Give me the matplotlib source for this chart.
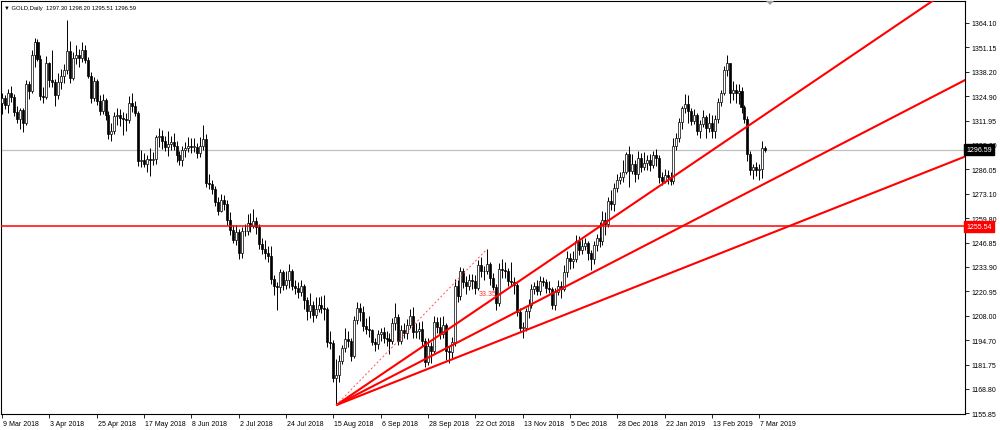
import matplotlib
matplotlib.use("Agg")
import matplotlib.pyplot as plt
import matplotlib.transforms as mtransforms
from matplotlib.patches import Polygon

# ---------------- data ----------------
chart_title = "GOLD,Daily"
last_ohlc = [1297.30, 1298.20, 1295.51, 1296.59]

opens = [
    1321.5, 1324.0, 1320.5, 1326.5, 1324.5, 1316.5, 1313.0, 1317.5, 1311.0, 1331.5,
    1328.0, 1347.0, 1354.0, 1345.0, 1325.0, 1324.5, 1342.5, 1333.5, 1332.5, 1325.5,
    1332.5, 1336.0, 1339.0, 1349.0, 1334.5, 1345.5, 1347.0, 1345.5, 1349.5, 1344.5,
    1336.0, 1324.0, 1333.0, 1322.5, 1317.0, 1323.0, 1315.0, 1305.0, 1306.5, 1314.5,
    1315.0, 1313.5, 1313.0, 1312.5, 1321.5, 1320.0, 1316.0, 1290.5, 1291.0, 1289.0,
    1291.5, 1291.0, 1291.5, 1303.5, 1304.0, 1301.0, 1298.0, 1299.5, 1300.5, 1298.5,
    1293.5, 1291.0, 1296.5, 1297.5, 1298.5, 1298.0, 1298.0, 1294.5, 1298.5, 1302.0,
    1278.5, 1278.0, 1275.5, 1268.5, 1264.0, 1269.5, 1267.5, 1259.0, 1253.5, 1248.5,
    1252.5, 1241.5, 1253.0, 1253.0, 1257.5, 1256.0, 1258.5, 1255.0, 1246.0, 1243.5,
    1241.5, 1240.0, 1227.5, 1224.0, 1223.0, 1231.0, 1224.5, 1227.0, 1231.5, 1223.5,
    1222.5, 1220.5, 1224.0, 1216.5, 1210.5, 1213.5, 1208.5, 1211.5, 1213.5, 1212.0,
    1211.5, 1194.0, 1193.5, 1174.5, 1176.5, 1184.0, 1190.5, 1195.5, 1194.5, 1186.5,
    1205.5, 1212.0, 1210.0, 1202.5, 1201.0, 1200.5, 1194.0, 1193.0, 1198.0, 1199.0,
    1196.0, 1195.5, 1194.5, 1204.0, 1207.0, 1194.5, 1200.5, 1198.5, 1203.0, 1208.0,
    1199.0, 1199.5, 1201.0, 1194.5, 1183.0, 1191.5, 1189.0, 1204.5, 1202.0, 1198.0,
    1203.0, 1189.0, 1188.5, 1194.0, 1224.0, 1218.5, 1232.0, 1226.0, 1223.5, 1227.0,
    1226.5, 1222.5, 1235.0, 1231.5, 1232.0, 1235.5, 1228.0, 1223.0, 1214.5, 1233.0,
    1232.5, 1232.0, 1226.5, 1226.0, 1224.5, 1210.0, 1201.5, 1201.5, 1210.5, 1213.5,
    1222.0, 1223.5, 1221.0, 1226.5, 1226.0, 1222.5, 1222.0, 1213.5, 1220.5, 1224.0,
    1222.0, 1231.0, 1238.5, 1237.0, 1238.0, 1248.0, 1243.0, 1245.0, 1246.5, 1241.5,
    1238.0, 1245.5, 1249.5, 1248.0, 1259.0, 1257.0, 1269.0, 1267.5, 1276.0, 1280.5,
    1282.0, 1284.5, 1294.0, 1285.0, 1289.0, 1283.5, 1292.0, 1287.0, 1289.5, 1291.0,
    1288.5, 1293.5, 1292.0, 1282.0, 1280.0, 1283.0, 1282.0, 1280.0, 1298.5, 1302.5,
    1311.5, 1319.0, 1321.0, 1317.0, 1312.0, 1315.0, 1306.5, 1310.0, 1314.0, 1308.0,
    1311.0, 1306.5, 1313.0, 1322.0, 1327.0, 1339.0, 1342.5, 1326.5, 1328.5, 1326.5,
    1328.0, 1319.5, 1313.0, 1294.0, 1285.5, 1287.0, 1285.5, 1286.0, 1297.30,
]
highs = [
    1327.0, 1325.5, 1329.0, 1330.5, 1326.0, 1320.0, 1319.0, 1318.5, 1333.5, 1333.0,
    1349.5, 1356.0, 1355.5, 1347.0, 1330.0, 1346.5, 1343.5, 1349.5, 1334.0, 1337.5,
    1339.5, 1342.0, 1365.5, 1354.5, 1348.5, 1352.5, 1350.0, 1354.0, 1352.5, 1346.0,
    1338.0, 1335.5, 1334.0, 1325.5, 1326.0, 1324.0, 1317.0, 1311.0, 1316.5, 1319.0,
    1318.0, 1316.5, 1316.0, 1325.0, 1326.5, 1322.5, 1317.0, 1296.5, 1294.5, 1293.5,
    1297.5, 1295.5, 1304.5, 1308.0, 1307.0, 1304.0, 1306.5, 1304.0, 1305.5, 1301.0,
    1296.0, 1298.5, 1300.5, 1303.5, 1302.5, 1303.0, 1300.0, 1303.5, 1309.5, 1305.0,
    1283.5, 1280.5, 1277.0, 1271.5, 1273.0, 1272.5, 1269.5, 1263.5, 1256.5, 1256.5,
    1254.0, 1255.0, 1257.0, 1262.0, 1262.5, 1265.0, 1260.5, 1257.0, 1249.5, 1248.5,
    1245.0, 1245.0, 1229.5, 1226.0, 1233.0, 1232.5, 1232.0, 1235.5, 1233.0, 1227.0,
    1226.0, 1227.0, 1225.0, 1218.0, 1220.0, 1215.5, 1218.0, 1218.0, 1218.5, 1219.0,
    1212.5, 1199.5, 1195.0, 1185.0, 1187.0, 1192.5, 1201.5, 1199.5, 1196.0, 1207.5,
    1215.0, 1214.5, 1213.0, 1206.5, 1207.5, 1201.0, 1196.0, 1200.5, 1201.5, 1202.0,
    1200.0, 1198.5, 1206.5, 1214.5, 1209.0, 1203.0, 1204.0, 1206.0, 1211.5, 1212.5,
    1204.0, 1204.5, 1205.0, 1196.0, 1196.0, 1194.0, 1207.5, 1207.0, 1207.0, 1207.5,
    1204.0, 1192.0, 1196.5, 1227.5, 1227.0, 1234.0, 1233.5, 1229.0, 1230.0, 1230.0,
    1229.5, 1237.5, 1239.0, 1234.5, 1243.5, 1236.5, 1230.5, 1225.0, 1236.0, 1238.0,
    1236.5, 1233.5, 1236.5, 1228.5, 1225.5, 1212.0, 1204.5, 1212.0, 1217.0, 1225.0,
    1226.0, 1227.0, 1229.0, 1228.5, 1227.5, 1226.5, 1223.0, 1222.5, 1227.0, 1226.5,
    1235.0, 1242.5, 1241.5, 1242.5, 1251.0, 1250.5, 1249.0, 1249.5, 1248.0, 1243.0,
    1248.0, 1251.5, 1258.0, 1264.0, 1263.0, 1271.0, 1275.0, 1278.5, 1283.5, 1284.5,
    1291.0, 1295.5, 1298.5, 1294.0, 1291.0, 1296.0, 1294.5, 1295.0, 1293.5, 1294.0,
    1296.0, 1297.0, 1293.5, 1284.5, 1286.0, 1285.5, 1284.5, 1302.5, 1305.5, 1313.5,
    1320.0, 1326.0, 1325.5, 1319.0, 1318.0, 1316.0, 1312.5, 1317.5, 1315.0, 1316.0,
    1315.0, 1315.0, 1324.0, 1328.5, 1341.0, 1347.0, 1343.0, 1333.0, 1331.5, 1331.5,
    1330.0, 1320.5, 1314.5, 1296.0, 1289.0, 1290.0, 1289.0, 1301.0, 1298.20,
]
lows = [
    1315.5, 1318.0, 1316.0, 1322.0, 1314.5, 1310.5, 1307.5, 1306.0, 1309.5, 1323.5,
    1326.5, 1340.5, 1344.0, 1323.0, 1321.5, 1323.5, 1330.0, 1330.0, 1320.0, 1323.5,
    1329.0, 1332.0, 1337.0, 1332.0, 1333.5, 1342.0, 1340.5, 1343.5, 1342.5, 1334.5,
    1321.5, 1322.5, 1320.5, 1315.0, 1315.5, 1312.5, 1302.0, 1301.0, 1305.0, 1309.5,
    1309.0, 1304.5, 1306.5, 1311.0, 1316.5, 1314.5, 1288.0, 1287.5, 1287.0, 1284.5,
    1282.5, 1288.5, 1289.0, 1298.0, 1297.0, 1296.0, 1293.0, 1296.5, 1296.5, 1290.0,
    1288.5, 1288.0, 1292.5, 1295.0, 1294.5, 1295.5, 1292.0, 1292.5, 1296.5, 1276.5,
    1275.5, 1273.0, 1266.5, 1261.5, 1263.0, 1264.5, 1256.5, 1251.0, 1246.5, 1245.5,
    1238.0, 1238.5, 1250.5, 1251.0, 1252.5, 1254.5, 1251.5, 1243.5, 1241.0, 1238.0,
    1236.5, 1225.0, 1219.0, 1211.0, 1220.0, 1221.5, 1222.0, 1222.5, 1221.5, 1219.5,
    1217.5, 1218.5, 1211.5, 1205.5, 1206.5, 1204.5, 1206.5, 1210.0, 1209.5, 1205.5,
    1191.0, 1190.0, 1172.5, 1160.2, 1172.5, 1182.0, 1188.5, 1191.0, 1183.5, 1185.5,
    1203.5, 1205.0, 1199.5, 1198.0, 1196.5, 1192.5, 1189.0, 1190.0, 1194.5, 1193.5,
    1192.0, 1187.5, 1193.0, 1200.5, 1192.5, 1193.0, 1196.0, 1195.5, 1201.5, 1196.0,
    1196.0, 1195.5, 1192.0, 1180.5, 1181.5, 1182.5, 1187.5, 1198.5, 1195.5, 1196.0,
    1184.5, 1182.5, 1185.5, 1192.0, 1215.0, 1216.5, 1222.5, 1219.5, 1221.5, 1222.0,
    1219.5, 1221.5, 1228.5, 1227.0, 1230.0, 1224.5, 1221.5, 1211.0, 1213.0, 1228.0,
    1228.0, 1224.0, 1223.5, 1219.5, 1207.5, 1199.5, 1196.0, 1200.0, 1206.5, 1212.0,
    1219.5, 1219.0, 1219.0, 1224.0, 1220.0, 1220.0, 1211.5, 1211.0, 1219.0, 1217.5,
    1221.0, 1228.5, 1233.0, 1233.5, 1236.5, 1240.5, 1241.0, 1243.0, 1237.5, 1232.5,
    1235.5, 1242.5, 1244.5, 1245.5, 1251.0, 1255.5, 1264.5, 1264.0, 1274.0, 1278.0,
    1279.5, 1283.5, 1276.5, 1283.5, 1279.5, 1281.0, 1284.5, 1285.5, 1285.5, 1285.0,
    1286.5, 1288.0, 1278.5, 1277.5, 1278.5, 1278.0, 1277.5, 1278.0, 1296.5, 1300.5,
    1307.5, 1316.0, 1311.0, 1309.5, 1310.0, 1304.5, 1303.0, 1308.5, 1302.5, 1306.0,
    1302.5, 1302.5, 1311.0, 1320.0, 1325.5, 1336.0, 1321.5, 1323.0, 1321.5, 1321.0,
    1316.0, 1310.5, 1290.5, 1283.0, 1281.0, 1282.5, 1280.5, 1281.5, 1295.51,
]
closes = [
    1324.0, 1320.5, 1326.5, 1324.5, 1316.5, 1313.0, 1317.5, 1311.0, 1331.5, 1328.0,
    1347.0, 1354.0, 1345.0, 1325.0, 1324.5, 1342.5, 1333.5, 1332.5, 1325.5, 1332.5,
    1336.0, 1339.0, 1349.0, 1334.5, 1345.5, 1347.0, 1345.5, 1349.5, 1344.5, 1336.0,
    1324.0, 1333.0, 1322.5, 1317.0, 1323.0, 1315.0, 1305.0, 1306.5, 1314.5, 1315.0,
    1313.5, 1313.0, 1312.5, 1321.5, 1320.0, 1316.0, 1290.5, 1291.0, 1289.0, 1291.5,
    1291.0, 1291.5, 1303.5, 1304.0, 1301.0, 1298.0, 1299.5, 1300.5, 1298.5, 1293.5,
    1291.0, 1296.5, 1297.5, 1298.5, 1298.0, 1298.0, 1294.5, 1298.5, 1302.0, 1278.5,
    1278.0, 1275.5, 1268.5, 1264.0, 1269.5, 1267.5, 1259.0, 1253.5, 1248.5, 1252.5,
    1241.5, 1253.0, 1253.0, 1257.5, 1256.0, 1258.5, 1255.0, 1246.0, 1243.5, 1241.5,
    1240.0, 1227.5, 1224.0, 1223.0, 1231.0, 1224.5, 1227.0, 1231.5, 1223.5, 1222.5,
    1220.5, 1224.0, 1216.5, 1210.5, 1213.5, 1208.5, 1211.5, 1213.5, 1212.0, 1211.5,
    1194.0, 1193.5, 1174.5, 1176.5, 1184.0, 1190.5, 1195.5, 1194.5, 1186.5, 1205.5,
    1212.0, 1210.0, 1202.5, 1201.0, 1200.5, 1194.0, 1193.0, 1198.0, 1199.0, 1196.0,
    1195.5, 1194.5, 1204.0, 1207.0, 1194.5, 1200.5, 1198.5, 1203.0, 1208.0, 1199.0,
    1199.5, 1201.0, 1194.5, 1183.0, 1191.5, 1189.0, 1204.5, 1202.0, 1198.0, 1203.0,
    1189.0, 1188.5, 1194.0, 1224.0, 1218.5, 1232.0, 1226.0, 1223.5, 1227.0, 1226.5,
    1222.5, 1235.0, 1231.5, 1232.0, 1235.5, 1228.0, 1223.0, 1214.5, 1233.0, 1232.5,
    1232.0, 1226.5, 1226.0, 1224.5, 1210.0, 1201.5, 1201.5, 1210.5, 1213.5, 1222.0,
    1223.5, 1221.0, 1226.5, 1226.0, 1222.5, 1222.0, 1213.5, 1220.5, 1224.0, 1222.0,
    1231.0, 1238.5, 1237.0, 1238.0, 1248.0, 1243.0, 1245.0, 1246.5, 1241.5, 1238.0,
    1245.5, 1249.5, 1248.0, 1259.0, 1257.0, 1269.0, 1267.5, 1276.0, 1280.5, 1282.0,
    1284.5, 1294.0, 1285.0, 1289.0, 1283.5, 1292.0, 1287.0, 1289.5, 1291.0, 1288.5,
    1293.5, 1292.0, 1282.0, 1280.0, 1283.0, 1282.0, 1280.0, 1298.5, 1302.5, 1311.5,
    1319.0, 1321.0, 1317.0, 1312.0, 1315.0, 1306.5, 1310.0, 1314.0, 1308.0, 1311.0,
    1306.5, 1313.0, 1322.0, 1327.0, 1339.0, 1342.5, 1326.5, 1328.5, 1326.5, 1328.0,
    1319.5, 1313.0, 1294.0, 1285.5, 1287.0, 1285.5, 1286.0, 1297.5, 1296.59,
]

date_labels = ["9 Mar 2018", "3 Apr 2018", "25 Apr 2018", "17 May 2018", "8 Jun 2018",
               "2 Jul 2018", "24 Jul 2018", "15 Aug 2018", "6 Sep 2018", "28 Sep 2018",
               "22 Oct 2018", "13 Nov 2018", "5 Dec 2018", "28 Dec 2018", "22 Jan 2019",
               "13 Feb 2019", "7 Mar 2019"]
bars_per_date_label = 16

price_ticks = [1364.10, 1351.15, 1338.20, 1324.90, 1311.95, 1299.00, 1286.05, 1273.10,
               1259.80, 1246.85, 1233.90, 1220.95, 1208.00, 1194.70, 1181.75, 1168.80,
               1155.85]

support_level = 1255.54
bid_price = 1296.59

fan_origin = (113, 1160.2)
fan_targets = [(326, 1388.1), (326, 1334.0), (326, 1293.1)]
angle_line_end = (164, 1243.5)
angle_label = "33.35"
angle_label_pos = (161.3, 1219.5)

# ---------------- figure ----------------
W, H = 1000, 431
fig = plt.figure(figsize=(W / 100, H / 100), dpi=100)
fig.patch.set_facecolor("white")
left_px, right_px, top_px, bottom_px = 1, 965, 1.5, 414.5
ax = fig.add_axes([left_px / W, 1 - bottom_px / H, (right_px - left_px) / W,
                   (bottom_px - top_px) / H])

px_per_price = 1.874
bar_px = 2.958
y_top = 1364.10 + (24 - top_px) / px_per_price
y_bot = 1364.10 - (bottom_px - 24) / px_per_price
ax.set_ylim(y_bot, y_top)
x0_px = 2.0
ax.set_xlim((left_px - x0_px) / bar_px, (right_px - x0_px) / bar_px)

n = len(closes)
idx = list(range(n))

FONT = ["Liberation Sans", "DejaVu Sans"]

# bid line
ax.axhline(bid_price, color="#c0c0c0", lw=0.9, zorder=1)

# candles
ax.vlines(idx, lows, highs, color="black", lw=0.7, zorder=2)
bottoms = [min(o, c) for o, c in zip(opens, closes)]
heights = [max(abs(c - o), 0.35) for o, c in zip(opens, closes)]
faces = ["white" if c >= o else "black" for o, c in zip(opens, closes)]
ax.bar(idx, heights, bottom=bottoms, width=0.68, color=faces, edgecolor="black",
       linewidth=0.5, zorder=3)

# horizontal support
ax.axhline(support_level, color="red", lw=1.1, zorder=4)

# fan lines
for tx, ty in fan_targets:
    ax.plot([fan_origin[0], tx], [fan_origin[1], ty], color="red", lw=1.5,
            solid_capstyle="butt", zorder=5)
# dashed angle trend line
ax.plot([fan_origin[0], angle_line_end[0]], [fan_origin[1], angle_line_end[1]],
        color="#ff4040", lw=0.6, ls=(0, (2.5, 2.5)), zorder=5)
ax.text(angle_label_pos[0], angle_label_pos[1], angle_label, color="#ff3030", fontsize=5,
        family=FONT, va="center", ha="left", zorder=2.5)

# axes styling
for s in ax.spines.values():
    s.set_color("black")
    s.set_linewidth(0.8)
ax.yaxis.tick_right()
ax.set_yticks(price_ticks)
ax.set_yticklabels([f"{p:.2f}" for p in price_ticks])
ax.tick_params(axis="y", direction="out", length=3, width=0.6, pad=1.5, labelsize=5,
               colors="black")
ticks_x = [i * bars_per_date_label for i in range(len(date_labels))]
ax.set_xticks(ticks_x)
ax.set_xticklabels(date_labels, ha="left")
ax.tick_params(axis="x", direction="out", length=3, width=0.6, pad=2, labelsize=5,
               colors="black")
for lab in ax.get_xticklabels() + ax.get_yticklabels():
    lab.set_family(FONT)
offset = mtransforms.ScaledTranslation(1.0 / 100, 0, fig.dpi_scale_trans)
for lab in ax.get_xticklabels():
    lab.set_transform(lab.get_transform() + offset)

# price boxes on the axis
blend = mtransforms.blended_transform_factory(ax.transAxes, ax.transData)
for val, bg in [(bid_price, "black"), (support_level, "red")]:
    ax.text(1.0015, val, f"{val:.2f}", transform=blend, color="white", fontsize=5,
            family=FONT, va="center", ha="left",
            bbox=dict(boxstyle="square,pad=0.3", facecolor=bg, edgecolor=bg),
            zorder=10, clip_on=False)

# title
fig.text(4 / W, 1 - 8.5 / H,
         "\u25BC " + chart_title + "  " + " ".join(f"{v:.2f}" for v in last_ohlc),
         fontsize=4.2, family=FONT, va="center", ha="left")

# chart shift marker
tri = Polygon([[766 / W, 1 - 2 / H], [774 / W, 1 - 2 / H], [770 / W, 1 - 6 / H]],
              closed=True, transform=fig.transFigure, facecolor="#a0a0a0",
              edgecolor="none")
fig.patches.append(tri)

fig.savefig("out.png", dpi=100, facecolor="white")
